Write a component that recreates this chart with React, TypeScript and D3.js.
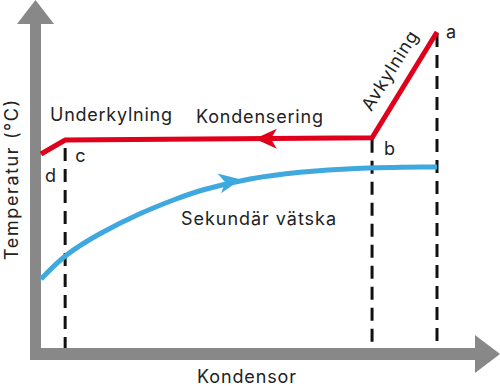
import React from "react";
import * as d3 from "d3";

// Refrigerant path states (position along condenser 0-100, temperature 0-100)
const stateLabels = ["d", "c", "b", "a"];
const statePos = [0, 6.1, 83.6, 100];
const stateTemp = [61.4, 65.8, 66.5, 100];

// Secondary fluid curve
const fluidPos = [0, 6.1, 14.9, 25, 34.1, 40.2, 52.8, 65.4, 78, 100];
const fluidTemp = [21.8, 29.7, 36.4, 42.7, 47.2, 50, 53.8, 55.7, 57, 57.3];

const W = 500, H = 386;
const x = d3.scaleLinear().domain([0, 100]).range([41, 437]);
const y = d3.scaleLinear().domain([0, 100]).range([348, 32]);

const GREY = "#888888";
const RED = "#e0001b";
const BLUE = "#3ea8df";
const TXT = "#222222";
const FONT = "Inter, 'Noto Sans', sans-serif";

function arrowHead(px: number, py: number, angle: number, color: string) {
  const p = "M0,0 L-22,-10 L-16,0 L-22,10 Z";
  return <path d={p} fill={color} transform={`translate(${px},${py}) rotate(${angle})`} />;
}

export default function App() {
  const redPts: [number, number][] = statePos.map((p, i) => [x(p), y(stateTemp[i])]);
  const bluePts: [number, number][] = fluidPos.map((p, i) => [x(p), y(fluidTemp[i])]);
  const line = d3.line();
  const curve = d3.line().curve(d3.curveBasis);

  const redArrowX = x(54);
  const redArrowY = y(65.8 + (66.5 - 65.8) * ((54 - 6.1) / (83.6 - 6.1)));
  const blueArrowX = x(50.5);
  const blueArrowY = y(53.3);
  const blueAngle = -10;

  const axisY = y(0);
  return (
    <svg width={W} height={H} style={{ position: "absolute", left: 0, top: 0 }}>
      <rect width={W} height={H} fill="#fff" />
      {[1, 2, 3].map((i) => (
        <line key={i} x1={x(statePos[i])} x2={x(statePos[i])} y1={y(stateTemp[i]) + (i === 1 ? 8 : 2)} y2={axisY}
          stroke="#111" strokeWidth={3} strokeDasharray="13 8" />
      ))}
      <rect x={30} y={22} width={11} height={338} fill={GREY} />
      <path d="M35.5,0 L54,24 L17,24 Z" fill={GREY} />
      <rect x={30} y={348} width={448} height={12} fill={GREY} />
      <path d="M500,354 L475,335 L475,373 Z" fill={GREY} />
      <path d={curve(bluePts) || ""} fill="none" stroke={BLUE} strokeWidth={5} />
      {arrowHead(blueArrowX, blueArrowY, blueAngle, BLUE)}
      <path d={line(redPts) || ""} fill="none" stroke={RED} strokeWidth={5} strokeLinejoin="miter" />
      {arrowHead(redArrowX, redArrowY, 180, RED)}
      <g fontFamily={FONT} fontSize={18} fill={TXT}>
        <text x={x(statePos[3]) + 9} y={y(stateTemp[3]) + 6}>{stateLabels[3]}</text>
        <text x={x(statePos[2]) + 12} y={y(stateTemp[2]) + 17}>{stateLabels[2]}</text>
        <text x={x(statePos[1]) + 10} y={y(stateTemp[1]) + 22}>{stateLabels[1]}</text>
        <text x={x(statePos[0]) + 4} y={y(stateTemp[0]) + 28}>{stateLabels[0]}</text>
      </g>
      <g fontFamily={FONT} fontSize={18} fill={TXT}>
        <text x={50} y={121} textLength={122}>Underkylning</text>
        <text x={196} y={123} textLength={127}>Kondensering</text>
        <text x={181} y={225} textLength={155}>Sekundär vätska</text>
        <text x={197} y={383} textLength={99}>Kondensor</text>
        <text transform="translate(18,180) rotate(-90)" textAnchor="middle" textLength={160}>Temperatur (°C)</text>
        <text transform="translate(395,74) rotate(-58)" textAnchor="middle" textLength={90}>Avkylning</text>
      </g>
    </svg>
  );
}
